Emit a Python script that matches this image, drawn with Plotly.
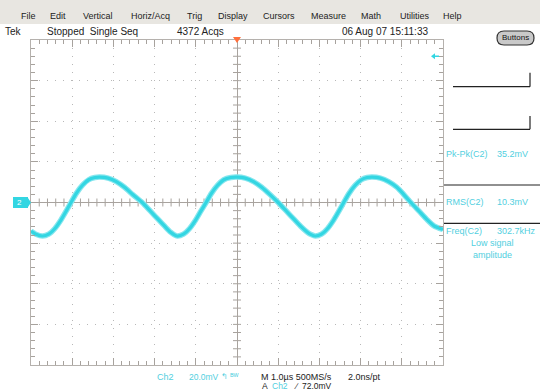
import plotly.graph_objects as go

# ---- acquisition data (Ch2, 1 us/div, 20 mV/div) ----
time_us = [-5.00, -4.88, -4.72, -4.57, -4.42, -4.27, -4.14, -4.03, -3.90, -3.75,
           -3.60, -3.45, -3.33, -3.13, -2.93, -2.73, -2.53, -2.30, -2.10, -1.90,
           -1.75, -1.62, -1.53, -1.45, -1.30, -1.15, -1.00, -0.87, -0.75, -0.62,
           -0.47, -0.32, -0.15, 0.00, 0.20, 0.40, 0.60, 0.80, 1.00, 1.20,
           1.40, 1.55, 1.70, 1.80, 1.90, 2.05, 2.20, 2.35, 2.48, 2.59,
           2.72, 2.87, 3.02, 3.16, 3.28, 3.48, 3.68, 3.88, 4.05, 4.22,
           4.42, 4.62, 4.78, 5.00]
ch2_mv = [-14.0, -15.6, -16.5, -15.6, -12.8, -8.5, -4.0, 0.0, 4.5, 8.5,
          11.2, 12.3, 12.5, 12.0, 10.3, 7.5, 3.9, 0.0, -4.3, -8.6,
          -11.8, -14.5, -15.8, -16.5, -15.6, -12.8, -8.5, -4.0, 0.0, 4.5,
          8.5, 11.2, 12.3, 12.5, 12.0, 10.3, 7.5, 3.9, 0.0, -4.3,
          -8.6, -11.8, -14.5, -15.8, -16.5, -15.6, -12.8, -8.5, -4.0, 0.0,
          4.5, 8.5, 11.2, 12.3, 12.5, 12.0, 10.3, 7.5, 3.9, 0.0,
          -4.3, -8.6, -11.5, -13.3]

trigger_level_mv = 72.0
menu_items = ["File", "Edit", "Vertical", "Horiz/Acq", "Trig", "Display",
              "Cursors", "Measure", "Math", "Utilities", "Help"]
meas_names = ["Pk-Pk(C2)", "RMS(C2)", "Freq(C2)"]
meas_values = ["35.2mV", "10.3mV", "302.7kHz"]

X_RANGE = [-5, 5]
Y_RANGE = [-80, 80]

# ---- screen geometry helpers (pixel -> paper) ----
W, H = 540, 392
ML, MR, MT, MB = 31, 97, 40, 27
PW, PH = W - ML - MR, H - MT - MB


def px(x):
    return (x - ML) / PW


def py(y):
    return (H - MB - y) / PH


CYAN = "#33d6e2"
CYAN_TXT = "#52cfe0"
TICK = "#a7a29d"
FONT = "Liberation Sans"
NARROW = "Liberation Sans Narrow, Liberation Sans"

fig = go.Figure()

# waveform: noisy-looking halo + core line
fig.add_trace(go.Scatter(x=time_us, y=ch2_mv, mode="lines",
                         line=dict(color="#86e6ee", width=5.5, shape="spline", smoothing=0.6),
                         hoverinfo="skip", showlegend=False))
fig.add_trace(go.Scatter(x=time_us, y=ch2_mv, mode="lines",
                         line=dict(color=CYAN, width=3.2, shape="spline", smoothing=0.6),
                         showlegend=False))

shapes = []
annotations = []

# centre-cross minor ticks
xdiv = (X_RANGE[1] - X_RANGE[0]) / 10
ydiv = (Y_RANGE[1] - Y_RANGE[0]) / 8
half_x_tick = 4 / PH * (Y_RANGE[1] - Y_RANGE[0])
half_y_tick = 4 / PW * (X_RANGE[1] - X_RANGE[0])
for k in range(1, 50):
    xv = X_RANGE[0] + k * xdiv / 5
    shapes.append(dict(type="line", xref="x", yref="y", x0=xv, x1=xv,
                       y0=-half_x_tick, y1=half_x_tick,
                       line=dict(color=TICK, width=1), layer="below"))
for k in range(1, 40):
    yv = Y_RANGE[0] + k * ydiv / 5
    shapes.append(dict(type="line", xref="x", yref="y", y0=yv, y1=yv,
                       x0=-half_y_tick, x1=half_y_tick,
                       line=dict(color=TICK, width=1), layer="below"))

# menu bar
shapes.append(dict(type="rect", xref="paper", yref="paper", x0=px(0), x1=px(W),
                   y0=py(24), y1=py(0), fillcolor="#e8e6e1", line=dict(width=0),
                   layer="below"))
menu_x = [19, 48, 81, 129, 185, 216, 261, 309, 359, 398, 441]
for name, x in zip(menu_items, menu_x):
    annotations.append(dict(text=name, x=px(x), y=py(15.5), xref="paper", yref="paper",
                            xanchor="left", yanchor="middle", showarrow=False,
                            font=dict(family=FONT, size=9, color="#222222")))

# status line
status = [("Tek", 3), ("Stopped  Single Seq", 45), ("4372 Acqs", 175),
          ("06 Aug 07 15:11:33", 340)]
for txt, x in status:
    annotations.append(dict(text=txt, x=px(x), y=py(31), xref="paper", yref="paper",
                            xanchor="left", yanchor="middle", showarrow=False,
                            font=dict(family=NARROW, size=10, color="#222222")))

# "Buttons" pill
bx0, bx1, by0, by1, r = 497, 534, 31, 45, 7
pill = (f"M {px(bx0 + r)},{py(by0)} L {px(bx1 - r)},{py(by0)} "
        f"Q {px(bx1)},{py(by0)} {px(bx1)},{py((by0 + by1) / 2)} "
        f"Q {px(bx1)},{py(by1)} {px(bx1 - r)},{py(by1)} "
        f"L {px(bx0 + r)},{py(by1)} "
        f"Q {px(bx0)},{py(by1)} {px(bx0)},{py((by0 + by1) / 2)} "
        f"Q {px(bx0)},{py(by0)} {px(bx0 + r)},{py(by0)} Z")
shapes.append(dict(type="path", xref="paper", yref="paper", path=pill,
                   fillcolor="#c9c9c9", line=dict(color="#333333", width=1.2)))
annotations.append(dict(text="Buttons", x=px((bx0 + bx1) / 2), y=py(38), xref="paper",
                        yref="paper", xanchor="center", yanchor="middle", showarrow=False,
                        font=dict(family=FONT, size=8, color="#111111")))

# trigger position marker (top)
tx = px(237)
shapes.append(dict(type="path", xref="paper", yref="paper",
                   path=f"M {px(233)},{py(37)} L {px(241)},{py(37)} L {tx},{py(43)} Z",
                   fillcolor="#ff6f3c", line=dict(width=0)))

# trigger level marker (right edge)
ty_paper = (trigger_level_mv - Y_RANGE[0]) / (Y_RANGE[1] - Y_RANGE[0])
shapes.append(dict(type="path", xref="paper", yref="paper",
                   path=f"M {px(431)},{ty_paper} L {px(435)},{ty_paper + 3 / PH} "
                        f"L {px(435)},{ty_paper - 3 / PH} Z",
                   fillcolor=CYAN, line=dict(width=0)))
shapes.append(dict(type="line", xref="paper", yref="paper", x0=px(434), x1=px(439),
                   y0=ty_paper, y1=ty_paper, line=dict(color=CYAN, width=1.5)))

# channel 2 ground marker (left)
shapes.append(dict(type="rect", xref="paper", yref="paper", x0=px(13), x1=px(28),
                   y0=py(208), y1=py(197), fillcolor=CYAN, line=dict(width=0)))
shapes.append(dict(type="path", xref="paper", yref="paper",
                   path=f"M {px(28)},{py(198)} L {px(31)},{py(202.5)} L {px(28)},{py(207)} Z",
                   fillcolor=CYAN, line=dict(width=0)))
annotations.append(dict(text="2", x=px(19), y=py(202.5), xref="paper", yref="paper",
                        xanchor="center", yanchor="middle", showarrow=False,
                        font=dict(family=FONT, size=8, color="white")))

# right panel brackets
for yb, ytop in [(86.7, 72.7), (129.3, 116)]:
    shapes.append(dict(type="line", xref="paper", yref="paper", x0=px(453), x1=px(530),
                       y0=py(yb), y1=py(yb), line=dict(color="#222222", width=1.2)))
    shapes.append(dict(type="line", xref="paper", yref="paper", x0=px(530), x1=px(530),
                       y0=py(yb), y1=py(ytop), line=dict(color="#222222", width=1.2)))

# measurement readouts
meas_y = [154, 201.7, 230.7]
for name, val, y in zip(meas_names, meas_values, meas_y):
    annotations.append(dict(text=name, x=px(444), y=py(y), xref="paper", yref="paper",
                            xanchor="left", yanchor="middle", showarrow=False,
                            font=dict(family=FONT, size=9, color=CYAN_TXT)))
    annotations.append(dict(text=val, x=px(495), y=py(y), xref="paper", yref="paper",
                            xanchor="left", yanchor="middle", showarrow=False,
                            font=dict(family=FONT, size=9, color=CYAN_TXT)))
for ys in [185, 223.3]:
    shapes.append(dict(type="line", xref="paper", yref="paper", x0=px(444), x1=px(540),
                       y0=py(ys), y1=py(ys), line=dict(color="#222222", width=1.2)))
for txt, y in [("Low signal", 242.7), ("amplitude", 255)]:
    annotations.append(dict(text=txt, x=px(492), y=py(y), xref="paper", yref="paper",
                            xanchor="center", yanchor="middle", showarrow=False,
                            font=dict(family=FONT, size=9, color=CYAN_TXT)))

# bottom readouts
bottom = [("Ch2", 155, 376.5, CYAN_TXT, 9), ("20.0mV", 187, 376.5, CYAN_TXT, 8.5),
          ("\u21b0 \u1d2e\u1d42", 219, 376.5, CYAN_TXT, 8),
          ("M 1.0\u00b5s 500MS/s", 259, 376.5, "#222222", 9),
          ("2.0ns/pt", 346, 376.5, "#222222", 9),
          ("A", 260, 385.5, "#222222", 8.5), ("Ch2", 270, 385.5, CYAN_TXT, 8.5),
          ("\u2215", 292, 385.5, "#222222", 8.5), ("72.0mV", 300, 385.5, "#222222", 8.5)]
for txt, x, y, col, sz in bottom:
    annotations.append(dict(text=txt, x=px(x), y=py(y), xref="paper", yref="paper",
                            xanchor="left", yanchor="middle", showarrow=False,
                            font=dict(family=FONT, size=sz, color=col)))

axis_common = dict(showticklabels=False, showline=True, linecolor="#b5b1ad", linewidth=1,
                   mirror="allticks", ticks="inside", ticklen=7, tickcolor=TICK,
                   showgrid=True, gridcolor="#b8b8b8", gridwidth=1, griddash="1px,7px",
                   zeroline=True, zerolinecolor="#a8a39e", zerolinewidth=1, fixedrange=True)

fig.update_xaxes(range=X_RANGE, dtick=1, tick0=0,
                 minor=dict(dtick=0.2, ticks="inside", ticklen=4, tickcolor=TICK, showgrid=False),
                 **axis_common)
fig.update_yaxes(range=Y_RANGE, dtick=20, tick0=0,
                 minor=dict(dtick=4, ticks="inside", ticklen=4, tickcolor=TICK, showgrid=False),
                 **axis_common)

fig.update_layout(width=W, height=H, margin=dict(l=ML, r=MR, t=MT, b=MB),
                  paper_bgcolor="white", plot_bgcolor="white",
                  shapes=shapes, annotations=annotations, showlegend=False)

fig.write_html("out.html", config={"displayModeBar": False})
